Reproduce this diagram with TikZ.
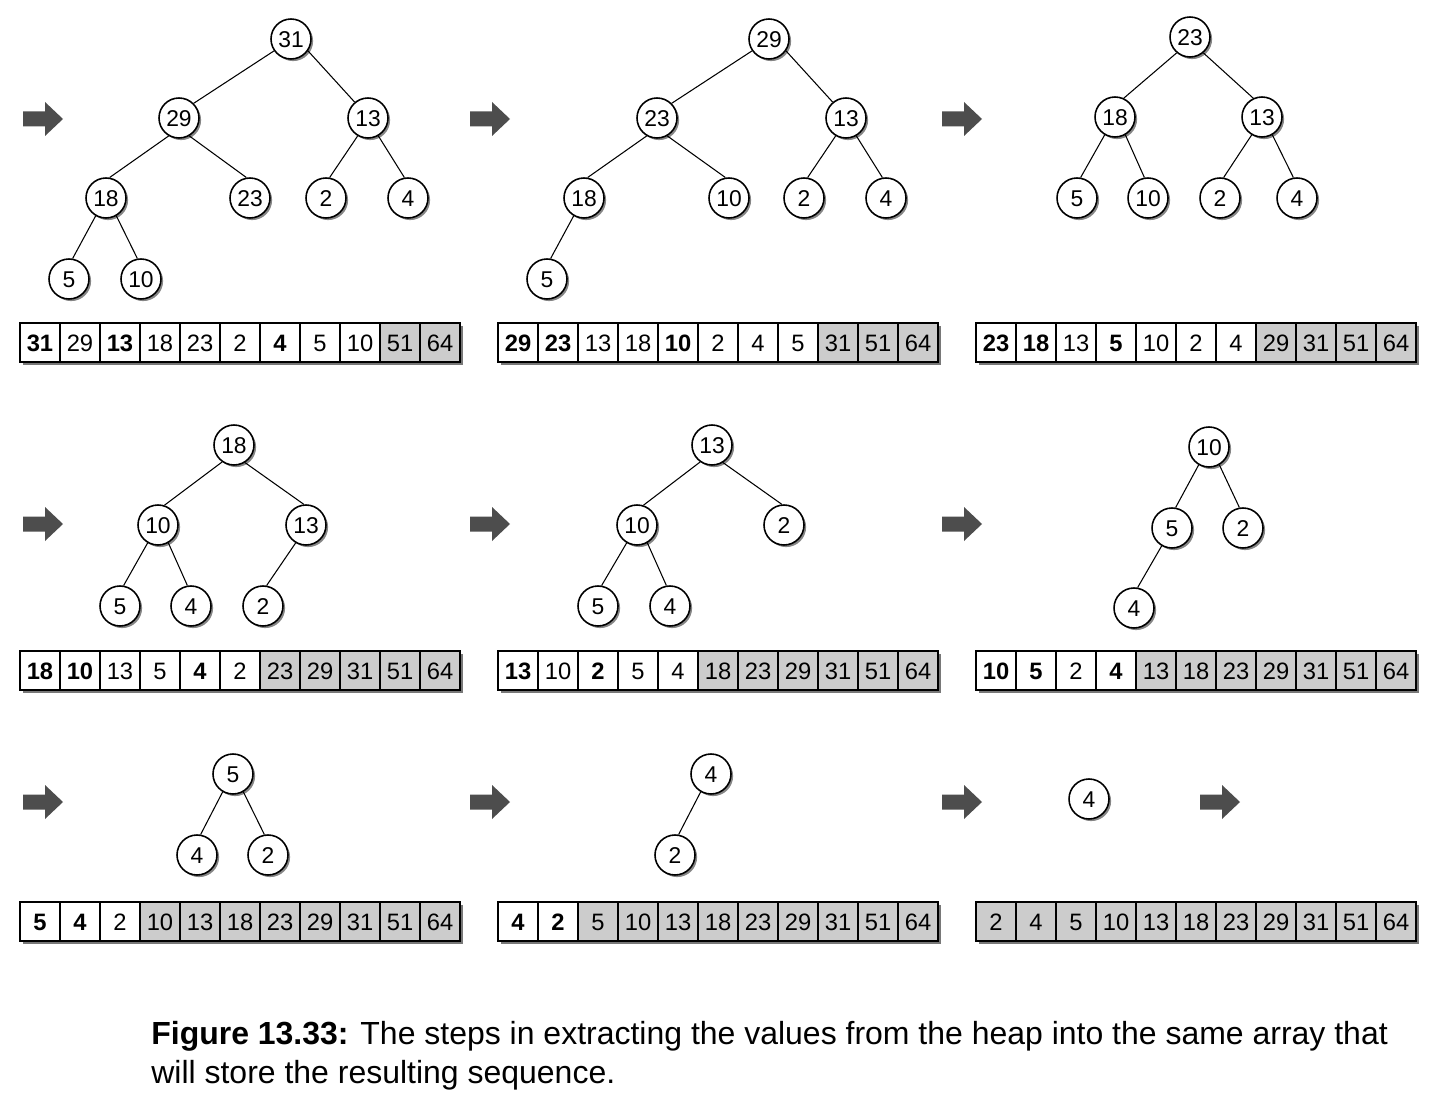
\documentclass[tikz,border=0pt]{standalone}
\usepackage{fontspec}
\setmainfont{Liberation Sans}
\usetikzlibrary{shadows}
\definecolor{CellGray}{RGB}{204,204,204}
\definecolor{ArrowGray}{RGB}{77,77,77}
\definecolor{ShadowGray}{RGB}{120,120,120}

\tikzset{
	heapnode/.style={circle, draw, line width=0.9pt, fill=white, minimum size=0.8cm, inner sep=0pt,
		font=\fontsize{13}{15}\selectfont, text height=9.3pt, text depth=0pt,
		drop shadow={shadow xshift=1.2pt, shadow yshift=-1.2pt, fill=ShadowGray, opacity=0.9}},
	heapedge/.style={line width=0.6pt},
	cell/.style={draw, line width=0.8pt, minimum width=0.8cm, minimum height=0.78cm, inner sep=0pt,
		font=\fontsize{13.5}{15}\selectfont, text height=9.7pt, text depth=0pt},
	celln/.style={cell, fill=white},
	cellb/.style={cell, fill=white, font=\fontsize{13.5}{15}\selectfont\bfseries},
	cellg/.style={cell, fill=CellGray}
}

\begin{document}
\begin{tikzpicture}[x=0.02cm, y=-0.02cm]
	\useasboundingbox (0,0) rectangle (1432,1104);

	\foreach \x/\y [count=\k] in {23/119, 470/119, 942/119, 23/524, 470/524, 942/524, 23/802, 470/802, 942/802, 1200/802}
	\fill[ArrowGray] (\x,\y) coordinate (arrow\k) ++(0,-7.5) -- ++(22,0) -- ++(0,-9.5) -- ++(18,17) -- ++(-18,17) -- ++(0,-9.5) -- ++(-22,0) -- cycle;

	\foreach \n/\x/\y in {31/291/39, 29/179/118, 13/368/118, 18/106/198, 23/250/198, 2/326/198, 4/408/198, 5/69/279, 10/141/279}
	\node[heapnode] (ta-\n) at (\x,\y) {\n};
	\foreach \a/\b/\p/\c in {31/29/-145/45, 31/13/-35/130, 29/18/-120/80, 29/23/-60/100, 13/2/-120/80, 13/4/-60/100, 18/5/-120/80, 18/10/-60/100}
	\draw[heapedge] (ta-\a.\p) -- (ta-\b.\c);

	\foreach \n/\x/\y in {29/769/39, 23/657/118, 13/846/118, 18/584/198, 10/729/198, 2/804/198, 4/886/198, 5/547/279}
	\node[heapnode] (tb-\n) at (\x,\y) {\n};
	\foreach \a/\b/\p/\c in {29/23/-145/45, 29/13/-35/130, 23/18/-120/80, 23/10/-60/100, 13/2/-120/80, 13/4/-60/100, 18/5/-120/80}
	\draw[heapedge] (tb-\a.\p) -- (tb-\b.\c);

	\foreach \n/\x/\y in {23/1190/37, 18/1115/117, 13/1262/117, 5/1077/198, 10/1148/198, 2/1220/198, 4/1297/198}
	\node[heapnode] (tc-\n) at (\x,\y) {\n};
	\foreach \a/\b/\p/\c in {23/18/-130/65, 23/13/-50/115, 18/5/-120/80, 18/10/-60/100, 13/2/-120/80, 13/4/-60/100}
	\draw[heapedge] (tc-\a.\p) -- (tc-\b.\c);

	\foreach \n/\x/\y in {18/234/445, 10/158/525, 13/306/525, 5/120/606, 4/191/606, 2/263/606}
	\node[heapnode] (td-\n) at (\x,\y) {\n};
	\foreach \a/\b/\p/\c in {18/10/-125/72, 18/13/-58/96, 10/5/-120/80, 10/4/-60/100, 13/2/-120/80}
	\draw[heapedge] (td-\a.\p) -- (td-\b.\c);

	\foreach \n/\x/\y in {13/712/445, 10/637/525, 2/784/525, 5/598/606, 4/670/606}
	\node[heapnode] (te-\n) at (\x,\y) {\n};
	\foreach \a/\b/\p/\c in {13/10/-125/72, 13/2/-58/96, 10/5/-120/80, 10/4/-60/100}
	\draw[heapedge] (te-\a.\p) -- (te-\b.\c);

	\foreach \n/\x/\y in {10/1209/447, 5/1172/528, 2/1243/528, 4/1134/608}
	\node[heapnode] (tf-\n) at (\x,\y) {\n};
	\foreach \a/\b/\p/\c in {10/5/-120/80, 10/2/-60/100, 5/4/-120/80}
	\draw[heapedge] (tf-\a.\p) -- (tf-\b.\c);

	\foreach \n/\x/\y in {5/233/774, 4/197/855, 2/268/855}
	\node[heapnode] (tg-\n) at (\x,\y) {\n};
	\foreach \a/\b/\p/\c in {5/4/-120/80, 5/2/-60/100}
	\draw[heapedge] (tg-\a.\p) -- (tg-\b.\c);

	\node[heapnode] (th-4) at (711,774) {4};
	\node[heapnode] (th-2) at (675,855) {2};
	\draw[heapedge] (th-4.-120) -- (th-2.80);

	\node[heapnode] (ti-4) at (1089,799) {4};

	\foreach \x/\y/\cells [count=\k] in {
		20/342.5/{b/31,n/29,b/13,n/18,n/23,n/2,b/4,n/5,n/10,g/51,g/64},
		498/342.5/{b/29,b/23,n/13,n/18,b/10,n/2,n/4,n/5,g/31,g/51,g/64},
		976/342.5/{b/23,b/18,n/13,b/5,n/10,n/2,n/4,g/29,g/31,g/51,g/64},
		20/670.5/{b/18,b/10,n/13,n/5,b/4,n/2,g/23,g/29,g/31,g/51,g/64},
		498/670.5/{b/13,n/10,b/2,n/5,n/4,g/18,g/23,g/29,g/31,g/51,g/64},
		976/670.5/{b/10,b/5,n/2,b/4,g/13,g/18,g/23,g/29,g/31,g/51,g/64},
		20/921.5/{b/5,b/4,n/2,g/10,g/13,g/18,g/23,g/29,g/31,g/51,g/64},
		498/921.5/{b/4,b/2,g/5,g/10,g/13,g/18,g/23,g/29,g/31,g/51,g/64},
		976/921.5/{g/2,g/4,g/5,g/10,g/13,g/18,g/23,g/29,g/31,g/51,g/64}}
	{
		\fill[ShadowGray] (\x+3,\y-16.5) rectangle (\x+443,\y+22.5);
		\foreach \s/\v [count=\i from 0] in \cells
		\node[cell\s] (arr\k-\i) at (\x+20+40*\i,\y) {\v};
	}

	\node[anchor=north west, align=left, inner sep=0pt, font=\fontsize{18.2}{22}\selectfont] (caption) at (151,1021)
		{\textbf{Figure 13.33:} The steps in extracting the values from the heap into the same array that\\
		will store the resulting sequence.};
\end{tikzpicture}
\end{document}
